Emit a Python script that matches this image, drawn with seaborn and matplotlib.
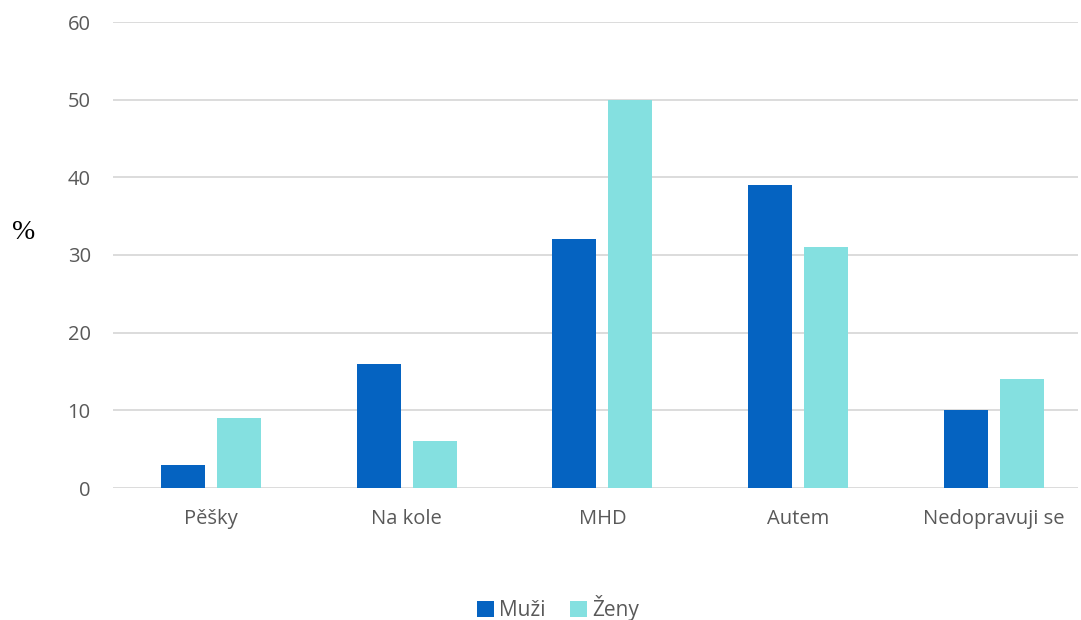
import pandas as pd
import matplotlib.pyplot as plt
import seaborn as sns

# data
categories = ["Pěšky", "Na kole", "MHD", "Autem", "Nedopravuji se"]
muzi = [3, 16, 32, 39, 10]
zeny = [9, 6, 50, 31, 14]
series = ["Muži", "Ženy"]
colors = ["#0563C1", "#84E0E0"]

df = pd.DataFrame({
    "kategorie": categories * 2,
    "hodnota": muzi + zeny,
    "pohlavi": [series[0]] * len(categories) + [series[1]] * len(categories),
})

sns.set_style("white")
plt.rcParams["font.family"] = ["Open Sans", "DejaVu Sans"]

fig = plt.figure(figsize=(10.81, 6.2), dpi=100)
ax = fig.add_axes([113 / 1081, 1 - 488 / 620, (1078 - 113) / 1081, (488 - 22) / 620])

sns.barplot(data=df, x="kategorie", y="hodnota", hue="pohlavi", palette=colors,
            width=0.571, gap=0.214, ax=ax, saturation=1, linewidth=0, legend=True)

ax.set_ylim(0, 60)
ax.set_yticks(range(0, 61, 10))
ax.set_xlim(-0.5, 4.43)
ax.yaxis.grid(True, color="#D9D9D9", linewidth=1.3)
ax.set_axisbelow(True)
for s in ax.spines.values():
    s.set_visible(False)
ax.tick_params(axis="both", length=0, colors="#595959", labelsize=14.5)
ax.tick_params(axis="x", pad=15)
ax.tick_params(axis="y", pad=16)
ax.set_xlabel("")
ax.set_ylabel("")

fig.text(24 / 1081, 1 - 232 / 620, "%", family="Liberation Serif", fontsize=20,
         ha="center", va="center", color="black")

ax.legend(loc="center", bbox_to_anchor=(558 / 1081, 1 - 608 / 620),
          bbox_transform=fig.transFigure, ncol=2, frameon=False,
          fontsize=15, handlelength=0.8, handleheight=0.8, handletextpad=0.25,
          columnspacing=1.2, labelcolor="#595959")

fig.savefig("out.png", dpi=100)
